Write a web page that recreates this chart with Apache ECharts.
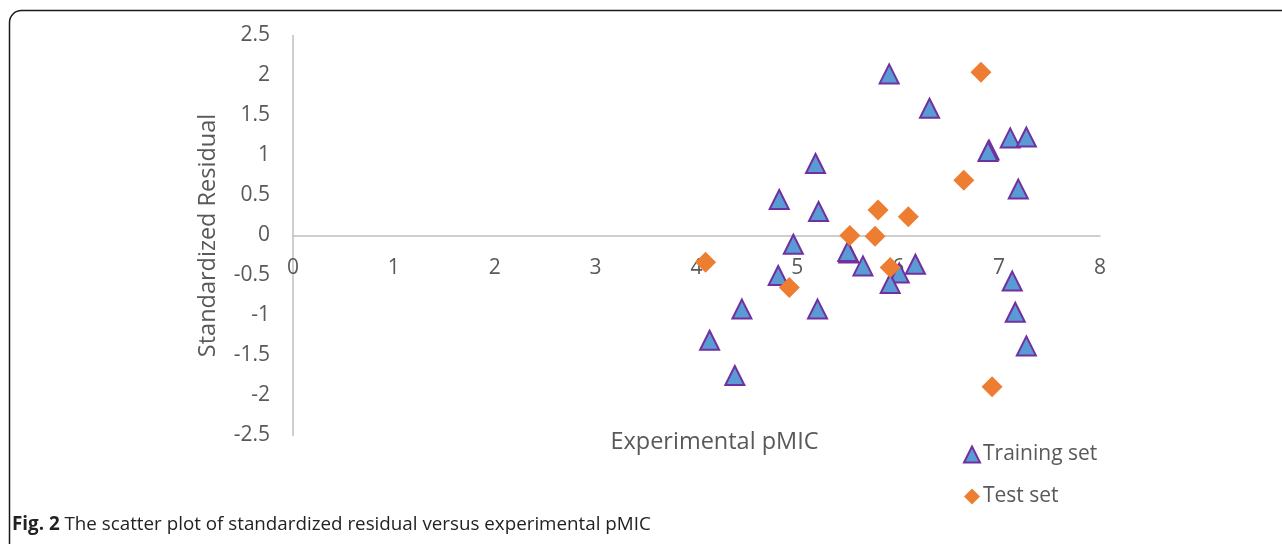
<!DOCTYPE html>
<html>
<head>
<meta charset="utf-8">
<script src="https://cdn.jsdelivr.net/npm/echarts@6/dist/echarts.min.js"></script>
<style>
html,body{margin:0;padding:0;background:#fff;}
#chart{width:1282px;height:544px;}
</style>
</head>
<body>
<div id="chart"></div>
<script>
// Training set: [experimental pMIC, standardized residual]
const trainingX = [5.91, 6.31, 6.90, 6.89, 7.11, 7.27, 7.19, 5.18, 4.82, 5.21, 4.96, 5.51, 5.50, 5.65, 6.17, 6.01, 5.92, 4.81, 4.45, 5.20, 4.13, 4.38, 7.13, 7.16, 7.27];
const trainingY = [2.02, 1.59, 1.07, 1.05, 1.22, 1.23, 0.58, 0.90, 0.45, 0.30, -0.11, -0.22, -0.20, -0.38, -0.36, -0.47, -0.60, -0.50, -0.92, -0.92, -1.31, -1.75, -0.57, -0.96, -1.38];
// Test set
const testX = [6.82, 6.65, 5.80, 6.10, 5.52, 5.77, 5.92, 4.09, 4.92, 6.93];
const testY = [2.04, 0.69, 0.32, 0.235, 0.00, -0.01, -0.40, -0.335, -0.65, -1.89];

const xTicks = [0, 1, 2, 3, 4, 5, 6, 7, 8];
const yTicks = [-2.5, -2, -1.5, -1, -0.5, 0, 0.5, 1, 1.5, 2, 2.5];

const seriesNames = ['Training set', 'Test set'];
const xName = 'Experimental pMIC';
const yName = 'Standardized Residual';
const captionBold = 'Fig. 2';
const captionText = ' The scatter plot of standardized residual versus experimental pMIC';

const FONT = '"Open Sans", "Noto Sans", sans-serif';
const chart = echarts.init(document.getElementById('chart'), null, {renderer: 'canvas'});

const training = trainingX.map((x, i) => [x, trainingY[i]]);
const test = testX.map((x, i) => [x, testY[i]]);

const GRID_TOP = 35.5, GRID_BOTTOM_PX = 435.5;
const zeroOffset = -(GRID_BOTTOM_PX - (GRID_TOP + GRID_BOTTOM_PX) / 2); // axis drawn at y = 0

chart.setOption({
  animation: false,
  backgroundColor: '#fff',
  grid: {left: 293, right: 182, top: GRID_TOP, bottom: 544 - GRID_BOTTOM_PX, containLabel: false, outerBoundsMode: 'none'},
  xAxis: {
    type: 'value',
    min: xTicks[0], max: xTicks[xTicks.length - 1], interval: 1,
    offset: zeroOffset,
    name: xName, nameLocation: 'middle', nameGap: 195,
    nameTextStyle: {fontFamily: FONT, fontSize: 23.5, color: '#595959', padding: [0, 0, 0, 36]},
    axisLine: {show: true, onZero: false, lineStyle: {color: '#BFBFBF', width: 1.5}},
    axisTick: {show: false},
    splitLine: {show: false},
    axisLabel: {fontFamily: FONT, fontSize: 21, color: '#595959', margin: 22}
  },
  yAxis: {
    type: 'value',
    min: yTicks[0], max: yTicks[yTicks.length - 1], interval: 0.5,
    name: yName, nameLocation: 'middle', nameGap: 73, nameRotate: 90,
    nameTextStyle: {fontFamily: FONT, fontSize: 23.5, color: '#595959'},
    axisLine: {show: true, onZero: false, lineStyle: {color: '#BFBFBF', width: 1.5}},
    axisTick: {show: false},
    splitLine: {show: false},
    axisLabel: {fontFamily: FONT, fontSize: 21, color: '#595959', margin: 23}
  },
  legend: {
    orient: 'vertical', left: 958, top: 439, itemGap: 21, itemWidth: 16, itemHeight: 16,
    textStyle: {fontFamily: FONT, fontSize: 21, color: '#595959', padding: [0, 0, 0, -2]},
    data: [
      {name: seriesNames[0], icon: 'triangle'},
      {name: seriesNames[1], icon: 'diamond'}
    ]
  },
  series: [
    {
      name: seriesNames[0], type: 'scatter', symbol: 'triangle', symbolSize: [19, 19],
      itemStyle: {color: '#5B9BD5', borderColor: '#7030A0', borderWidth: 2, opacity: 1},
      data: training, z: 3
    },
    {
      name: seriesNames[1], type: 'scatter', symbol: 'diamond', symbolSize: 21,
      itemStyle: {color: '#ED7D31', opacity: 1},
      data: test, z: 4
    }
  ],
  graphic: [
    {
      type: 'rect', silent: true, z: 0,
      shape: {x: 9.5, y: 10.5, width: 1320, height: 620, r: 12},
      style: {fill: 'none', stroke: '#1a1a1a', lineWidth: 1.5}
    },
    {
      type: 'text', left: 12, top: 515, z: 10,
      style: {
        text: '{b|' + captionBold + '}{n|' + captionText + '}',
        rich: {
          b: {fontFamily: FONT, fontSize: 18.8, fontWeight: 'bold', fill: '#222'},
          n: {fontFamily: FONT, fontSize: 18.8, fill: '#222'}
        }
      }
    }
  ]
});
</script>
</body>
</html>
